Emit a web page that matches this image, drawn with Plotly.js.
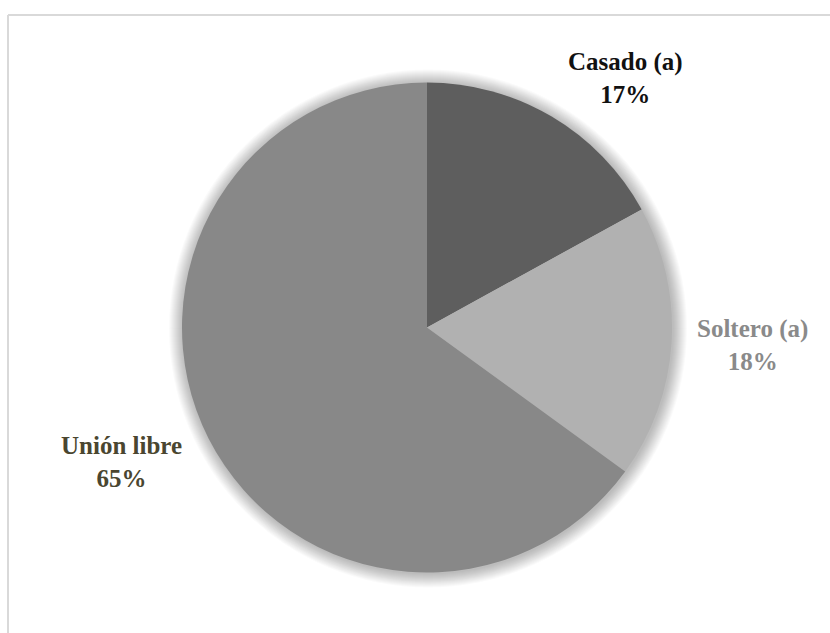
<!DOCTYPE html>
<html>
<head>
<meta charset="utf-8">
<script src="https://cdn.plot.ly/plotly-3.0.1.min.js"></script>
<style>
html,body{margin:0;padding:0;background:#fff;}
#chart{width:830px;height:633px;}
</style>
</head>
<body>
<div id="chart"></div>
<script>
// Data
const categories = ["Casado (a)", "Soltero (a)", "Unión libre"];
const percents = [17, 18, 65];
const sliceColors = ["#5e5e5e", "#b1b1b1", "#888888"];
const labelColors = ["#111111", "#8a8a8a", "#4a4630"];
// label anchor positions (paper fractions) for each category
const labelX = [0.754, 0.907, 0.146];
const labelY = [0.877, 0.455, 0.27];

const serifFont = "Liberation Serif, Tinos, Times New Roman, serif";

// pie geometry (pixels)
const W = 830, H = 633;
const pieL = 182, pieR = 672, pieB = 60, pieT = 551;
const cx = (pieL + pieR) / 2, cy = (pieB + pieT) / 2, rad = (pieR - pieL) / 2;

const trace = {
  type: "pie",
  labels: categories,
  values: percents,
  sort: false,
  direction: "clockwise",
  rotation: 0,
  textinfo: "none",
  hoverinfo: "label+percent",
  marker: {colors: sliceColors, line: {width: 0}},
  domain: {x: [pieL / W, pieR / W], y: [pieB / H, pieT / H]},
  showlegend: false
};

const annotations = categories.map((c, i) => ({
  xref: "paper", yref: "paper",
  x: labelX[i], y: labelY[i],
  xanchor: "center", yanchor: "middle",
  text: c + "<br>" + percents[i] + "%",
  showarrow: false,
  align: "center",
  font: {family: serifFont, size: 25, weight: "bold", color: labelColors[i]}
}));

// soft halo (shadow) behind the pie: stacked translucent circles
const shadowShapes = [];
for (let k = 1; k <= 14; k++) {
  const r = rad + k;
  shadowShapes.push({
    type: "circle", xref: "paper", yref: "paper", layer: "below",
    x0: (cx + 1 - r) / W, x1: (cx + 1 + r) / W,
    y0: (cy - 1 - r) / H, y1: (cy - 1 + r) / H,
    fillcolor: "rgba(0,0,0,0.02)", line: {width: 0}
  });
}

const layout = {
  width: W, height: H,
  margin: {l: 0, r: 0, t: 0, b: 0},
  paper_bgcolor: "#ffffff",
  plot_bgcolor: "#ffffff",
  font: {family: serifFont},
  annotations: annotations,
  shapes: shadowShapes.concat([
    {type: "line", xref: "paper", yref: "paper", x0: 8 / W, x1: 1, y0: 1 - 15 / H, y1: 1 - 15 / H, line: {color: "#d9d9d9", width: 2}},
    {type: "line", xref: "paper", yref: "paper", x0: 8 / W, x1: 8 / W, y0: 0, y1: 1 - 15 / H, line: {color: "#d9d9d9", width: 2}}
  ])
};

Plotly.newPlot("chart", [trace], layout, {displayModeBar: false, staticPlot: true});
</script>
</body>
</html>
